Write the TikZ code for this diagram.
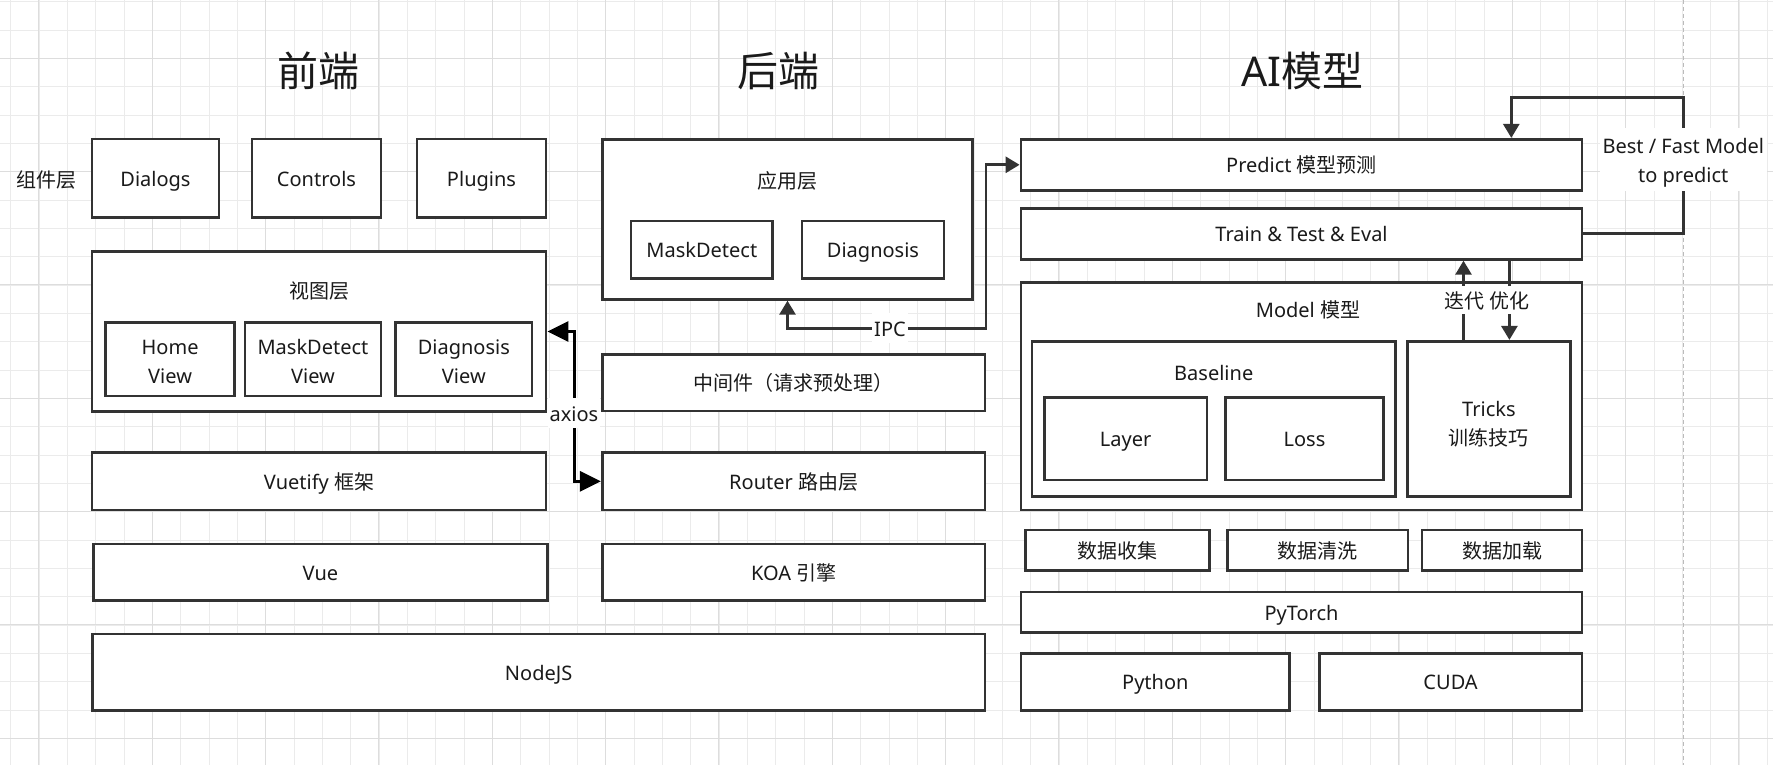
\documentclass[tikz,border=0pt]{standalone}
\usepackage{fontspec}
\setmainfont{Noto Sans}
\newfontfamily\cn{Noto Sans CJK SC}
\usetikzlibrary{arrows.meta,calc}
\definecolor{stroke}{HTML}{333333}
\definecolor{txt}{HTML}{1A1A1A}
\definecolor{gridminor}{HTML}{EBEBEB}
\definecolor{gridmajor}{HTML}{DDDDDD}
\definecolor{pageline}{HTML}{BBBBBB}
\begin{document}
\begin{tikzpicture}[x=1pt,y=-1pt,
  box/.style={draw=stroke, line width=2.8pt, fill=white, inner sep=0pt, align=center, text=txt, font=\fontsize{20}{29}\selectfont, text height=21pt, text depth=5pt},
  lbl/.style={text=txt, font=\fontsize{20}{29}\selectfont, align=center, inner sep=0pt, text height=21pt, text depth=5pt},
  twolines/.style={text height=51.3pt, text depth=5pt},
  title/.style={text=txt, font=\fontsize{41}{48}\selectfont, inner sep=0pt},
  edgelbl/.style={text=txt, font=\fontsize{20}{29}\selectfont, align=center, fill=white, inner sep=2pt, text height=21pt, text depth=5pt},
  conn/.style={draw=stroke, line width=2.8pt},
  tipS/.tip={Triangle[length=14pt,width=16pt]},
  tipL/.tip={Triangle[length=21pt,width=20pt]}
]
% background and grid
\fill[white] (0,0) rectangle (1773,765);
\useasboundingbox (0,0) rectangle (1773,765);
\foreach \k in {0,...,62} {\draw[gridminor, line width=1pt] ({10.7+28.333*\k},0) -- ({10.7+28.333*\k},765);}
\foreach \k in {0,...,26} {\draw[gridminor, line width=1pt] (0,{1.7+28.333*\k}) -- (1773,{1.7+28.333*\k});}
\foreach \k in {0,...,15} {\draw[gridmajor, line width=1pt] ({38.7+113.333*\k},0) -- ({38.7+113.333*\k},765);}
\foreach \k in {0,...,6} {\draw[gridmajor, line width=1pt] (0,{58.3+113.333*\k}) -- (1773,{58.3+113.333*\k});}
\draw[pageline, line width=1pt, dash pattern=on 4pt off 3pt] (1683.3,0) -- (1683.3,765);

% titles
\node[title] (tfront) at (318.6,71) {\cn 前端};
\node[title] (tback) at (778.6,71) {\cn 后端};
\node[title] (tai) at (1302.5,71) {AI{\cn 模型}};

% ---------- front end ----------
\node[lbl] (complbl) at (46.5,180) {\cn 组件层};
\node[box, minimum width=127pt, minimum height=78.5pt] (dialogs) at (155.5,178.25) {Dialogs};
\node[box, minimum width=129pt, minimum height=78.5pt] (controls) at (316.5,178.25) {Controls};
\node[box, minimum width=129pt, minimum height=78.5pt] (plugins) at (481.5,178.25) {Plugins};
\node[box, minimum width=454pt, minimum height=160.4pt] (view) at (319,331.5) {};
\node[lbl] (viewlbl) at (319,290) {\cn 视图层};
\node[box, twolines, text height=53pt, minimum width=129pt, minimum height=73.3pt] (homeview) at (170.1,359.35) {Home\\View};
\node[box, twolines, text height=53pt, minimum width=136pt, minimum height=73.3pt] (mdview) at (313,359.35) {MaskDetect\\View};
\node[box, twolines, text height=53pt, minimum width=136.3pt, minimum height=73.3pt] (dgview) at (463.85,359.35) {Diagnosis\\View};
\node[box, minimum width=454pt, minimum height=57.3pt] (vuetify) at (319,481.35) {Vuetify {\cn 框架}};
\node[box, minimum width=453.8pt, minimum height=56.6pt] (vue) at (320.4,572.2) {Vue};
\node[box, minimum width=892.7pt, minimum height=76.5pt] (nodejs) at (538.65,672.25) {NodeJS};

% ---------- back end ----------
\node[box, minimum width=370.4pt, minimum height=160pt] (app) at (787.5,219.3) {};
\node[lbl] (applbl) at (787.5,181) {\cn 应用层};
\node[box, minimum width=141.7pt, minimum height=57.3pt] (mdapp) at (701.85,249.65) {MaskDetect};
\node[box, minimum width=142pt, minimum height=57.3pt] (dgapp) at (873,249.65) {Diagnosis};
\node[box, minimum width=382.7pt, minimum height=56.7pt] (middle) at (793.65,382.65) {\cn 中间件（请求预处理）};
\node[box, minimum width=382.7pt, minimum height=57.3pt] (router) at (793.65,481.35) {Router {\cn 路由层}};
\node[box, minimum width=382.7pt, minimum height=56.6pt] (koa) at (793.65,572.2) {KOA {\cn 引擎}};

% ---------- AI ----------
\node[box, minimum width=561pt, minimum height=51pt] (predict) at (1301.5,164.8) {Predict {\cn 模型预测}};
\node[box, minimum width=561pt, minimum height=51pt] (train) at (1301.5,233.8) {Train \& Test \& Eval};
\node[box, minimum width=561pt, minimum height=227.7pt] (model) at (1301.5,396.15) {};
\node[lbl] (modellbl) at (1308,309.3) {Model {\cn 模型}};
\node[box, minimum width=363.5pt, minimum height=155.4pt] (baseline) at (1213.75,419) {};
\node[lbl] (baselbl) at (1213.75,372) {Baseline};
\node[box, minimum width=162.6pt, minimum height=82.7pt] (layer) at (1125.7,438.65) {Layer};
\node[box, minimum width=158.3pt, minimum height=82.7pt] (loss) at (1304.45,438.65) {Loss};
\node[box, twolines, text height=57pt, minimum width=163.2pt, minimum height=155.4pt] (tricks) at (1488.9,419) {Tricks\\{\cn 训练技巧}};
\node[box, minimum width=184.1pt, minimum height=40.7pt] (dc1) at (1117.65,550.35) {\cn 数据收集};
\node[box, minimum width=180.7pt, minimum height=40.7pt] (dc2) at (1317.65,550.35) {\cn 数据清洗};
\node[box, minimum width=160pt, minimum height=40.7pt] (dc3) at (1502.05,550.35) {\cn 数据加载};
\node[box, minimum width=561pt, minimum height=40.3pt] (pytorch) at (1301.5,612.15) {PyTorch};
\node[box, minimum width=268.7pt, minimum height=57.2pt] (python) at (1155.35,681.9) {Python};
\node[box, minimum width=262.8pt, minimum height=57.2pt] (cuda) at (1450.6,681.9) {CUDA};

% ---------- connectors ----------
% axios
\draw[conn, draw=black, line width=3pt, {tipL}-{tipL}] (view.east) -- ++(27.3,0) |- (router.west);
\node[edgelbl] (axioslbl) at (574,413.3) {axios};
% IPC
\coordinate (ipcturn) at (986,328.3);
\draw[conn, {tipS}-{tipS}] (app.south) |- (ipcturn) |- (predict.west);
\node[edgelbl] (ipclbl) at (890,328.3) {IPC};
% best model to predict
\coordinate (bestturn) at (1683.3,97.3);
\draw[conn, -{tipS}] (train.east) -| (bestturn) -| ([xshift=209.8pt]predict.north);
\node[edgelbl, twolines, inner sep=3pt] (bestlbl) at (1683.3,159.5) {Best / Fast Model\\to predict};
% iterate / optimise
\draw[conn, -{tipS}] ([xshift=-25.4pt]tricks.north) -- ([xshift=-25.4pt]tricks.north |- train.south);
\draw[conn, -{tipS}] ([xshift=20.5pt]tricks.north |- train.south) -- ([xshift=20.5pt]tricks.north);
\node[edgelbl, inner sep=1pt] (iterlbl) at (1487,300) {\cn 迭代 优化};
\end{tikzpicture}
\end{document}
